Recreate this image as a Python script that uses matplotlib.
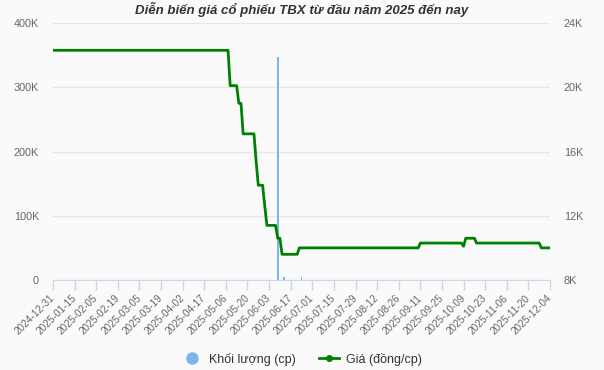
import matplotlib
matplotlib.use("Agg")
from matplotlib import pyplot as plt
from matplotlib.lines import Line2D
import numpy as np

plt.rcParams['font.family'] = ['Liberation Sans', 'DejaVu Sans']

# trading days since 2024-12-31, one tick label every 10 sessions
n_days = 231
tick_labels = ["2024-12-31", "2025-01-15", "2025-02-05", "2025-02-19", "2025-03-05",
               "2025-03-19", "2025-04-02", "2025-04-17", "2025-05-06", "2025-05-20",
               "2025-06-03", "2025-06-17", "2025-07-01", "2025-07-15", "2025-07-29",
               "2025-08-12", "2025-08-26", "2025-09-11", "2025-09-25", "2025-10-09",
               "2025-10-23", "2025-11-06", "2025-11-20", "2025-12-04"]

# price (dong/cp): (first session index, value) - value holds until next change
price_change_day = [0, 82, 86, 88, 94, 95, 98, 99, 104, 106, 114, 170, 190, 191, 196, 226]
price_change_val = [22300, 20100, 19000, 17100, 15400, 13900, 12600, 11400, 10600, 9600,
                    10000, 10300, 10100, 10600, 10300, 10000]

# volume (cp): only sessions with visible trades
volume_day = [104, 107, 115]
volume_val = [347000, 5000, 4000]

title = "Diễn biến giá cổ phiếu TBX từ đầu năm 2025 đến nay"
vol_label = "Khối lượng (cp)"
price_label = "Giá (đồng/cp)"

days = np.arange(n_days)
price = np.zeros(n_days)
for d, v in zip(price_change_day, price_change_val):
    price[d:] = v
volume = np.zeros(n_days)
volume[volume_day] = volume_val

bg = '#fafafa'
fig = plt.figure(figsize=(6.04, 3.70), dpi=100, facecolor=bg)
ax = fig.add_axes([53 / 604, 1 - 280 / 370, (550 - 53) / 604, (280 - 23) / 370])
ax.set_facecolor(bg)

ax.bar(days, volume, width=0.9, color='#7cb5ec', zorder=3)
ax.set_ylim(0, 400000)
ax.set_yticks(np.arange(0, 400001, 100000))
ax.set_yticklabels(['0', '100K', '200K', '300K', '400K'])
ax.grid(axis='y', color='#e6e6e6', linewidth=1, zorder=0)
ax.set_axisbelow(True)

ax2 = ax.twinx()
ax2.plot(days, price, color='#008000', linewidth=2, zorder=5)
ax2.set_ylim(8000, 24000)
ax2.set_yticks(np.arange(8000, 24001, 4000))
ax2.set_yticklabels(['8K', '12K', '16K', '20K', '24K'])

ax.set_xlim(0, n_days - 1)
ax.set_xticks(np.arange(0, n_days, 10))
ax.set_xticklabels(tick_labels, rotation=45, ha='right', va='center',
                   rotation_mode='anchor', fontsize=7.2, color='#666666')
ax.tick_params(axis='x', length=7, width=1, color='#ccd6eb', pad=5)
ax.tick_params(axis='y', length=0, labelsize=7.8, labelcolor='#666666', pad=10)
ax2.tick_params(axis='y', length=0, labelsize=7.8, labelcolor='#666666', pad=10)

for a in (ax, ax2):
    for s in ('top', 'left', 'right', 'bottom'):
        a.spines[s].set_visible(False)
ax.spines['bottom'].set_visible(True)
ax.spines['bottom'].set_color('#ccd6eb')

fig.text(0.5, 1 - 9 / 370, title, ha='center', va='center', fontsize=9.5,
         fontweight='bold', fontstyle='italic', color='#333333')

handles = [
    Line2D([], [], linestyle='none', marker='o', markersize=8, color='#7cb5ec'),
    Line2D([], [], color='#008000', linewidth=2, marker='o', markersize=4),
]
fig.legend(handles, [vol_label, price_label], loc='center', ncol=2,
           bbox_to_anchor=(0.5, 1 - 359 / 370), frameon=False, fontsize=9,
           handlelength=1.6, columnspacing=1.8, handletextpad=0.6,
           labelcolor='#333333')

fig.savefig('out.png', dpi=100, facecolor=bg)
